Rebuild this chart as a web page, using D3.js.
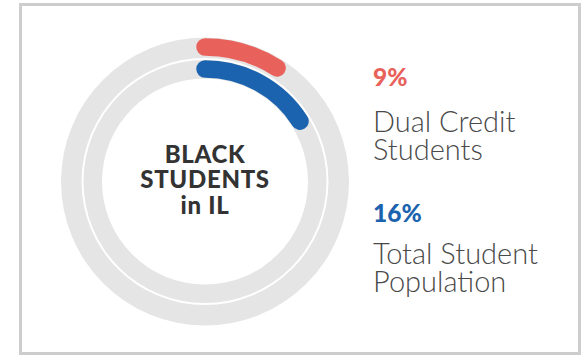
<!DOCTYPE html>
<html>
<head>
<meta charset="utf-8">
<script src="https://cdn.jsdelivr.net/npm/d3@7"></script>
<style>
  html, body { margin: 0; padding: 0; background: #fff; }
  svg { display: block; }
</style>
</head>
<body>
<svg id="chart" width="583" height="356"></svg>
<script>
// Share of Black students in Illinois: dual credit vs. whole student body
const groups = ["Dual Credit Students", "Total Student Population"];
const shares = [9, 16];
const labelLines = [["Dual Credit", "Students"], ["Total Student", "Population"]];
const centerLines = ["BLACK", "STUDENTS", "in IL"];

const colors = ["#e8615b", "#1b63ae"];
const trackColor = "#e5e5e5";
const textColor = "#4a4a4a";

const svg = d3.select("#chart");

// card frame
svg.append("rect")
  .attr("x", 20.5).attr("y", 4.5)
  .attr("width", 559).attr("height", 349)
  .attr("fill", "#fff")
  .attr("stroke", "#cdcdcd")
  .attr("stroke-width", 3);

const cx = 205, cy = 181.5;
const g = svg.append("g").attr("transform", `translate(${cx},${cy})`);

// percent -> angle (clockwise from 12 o'clock)
const angle = d3.scaleLinear().domain([0, 100]).range([0, 2 * Math.PI]);

// two concentric tracks: outer for dual credit, inner for total population
const rings = [
  { track: [123.5, 144], mid: 134.5, width: 17.5 },
  { track: [103, 121.5], mid: 112.5, width: 17.5 }
];

rings.forEach(r => {
  g.append("path")
    .attr("d", d3.arc()({ innerRadius: r.track[0], outerRadius: r.track[1], startAngle: 0, endAngle: 2 * Math.PI }))
    .attr("fill", trackColor);
});

// value arcs as stroked centre lines with rounded caps
shares.forEach((v, i) => {
  const r = rings[i].mid;
  g.append("path")
    .attr("d", d3.arc()({ innerRadius: r, outerRadius: r, startAngle: angle(0), endAngle: angle(v) }))
    .attr("fill", "none")
    .attr("stroke", colors[i])
    .attr("stroke-width", rings[i].width)
    .attr("stroke-linecap", "round")
    .attr("stroke-linejoin", "round");
});

// centre caption, one text block with a line per tspan
const centerBaselines = [162.5, 188, 214];
g.append("text")
  .attr("text-anchor", "middle")
  .attr("font-family", "Lato, 'Open Sans', sans-serif")
  .attr("font-weight", 900)
  .attr("font-size", 24)
  .attr("letter-spacing", 0.7)
  .attr("fill", "#333")
  .selectAll("tspan")
  .data(centerLines)
  .join("tspan")
  .attr("x", 0)
  .attr("y", (d, i) => centerBaselines[i] - cy)
  .text(d => d);

// labels to the right of the ring
const lx = 373;
const pctBaselines = [85.5, 221.5];
const lineBaselines = [[131.5, 159.5], [263.5, 291.5]];

shares.forEach((v, i) => {
  svg.append("text")
    .attr("x", lx).attr("y", pctBaselines[i])
    .attr("font-family", "Lato, sans-serif")
    .attr("font-weight", 900)
    .attr("font-size", 24.5)
    .attr("fill", colors[i])
    .text(`${v}%`);
  svg.append("text")
    .attr("font-family", "Lato, sans-serif")
    .attr("font-weight", 300)
    .attr("font-size", 29)
    .attr("fill", textColor)
    .selectAll("tspan")
    .data(labelLines[i])
    .join("tspan")
    .attr("x", lx)
    .attr("y", (d, j) => lineBaselines[i][j])
    .text(d => d);
});
</script>
</body>
</html>
